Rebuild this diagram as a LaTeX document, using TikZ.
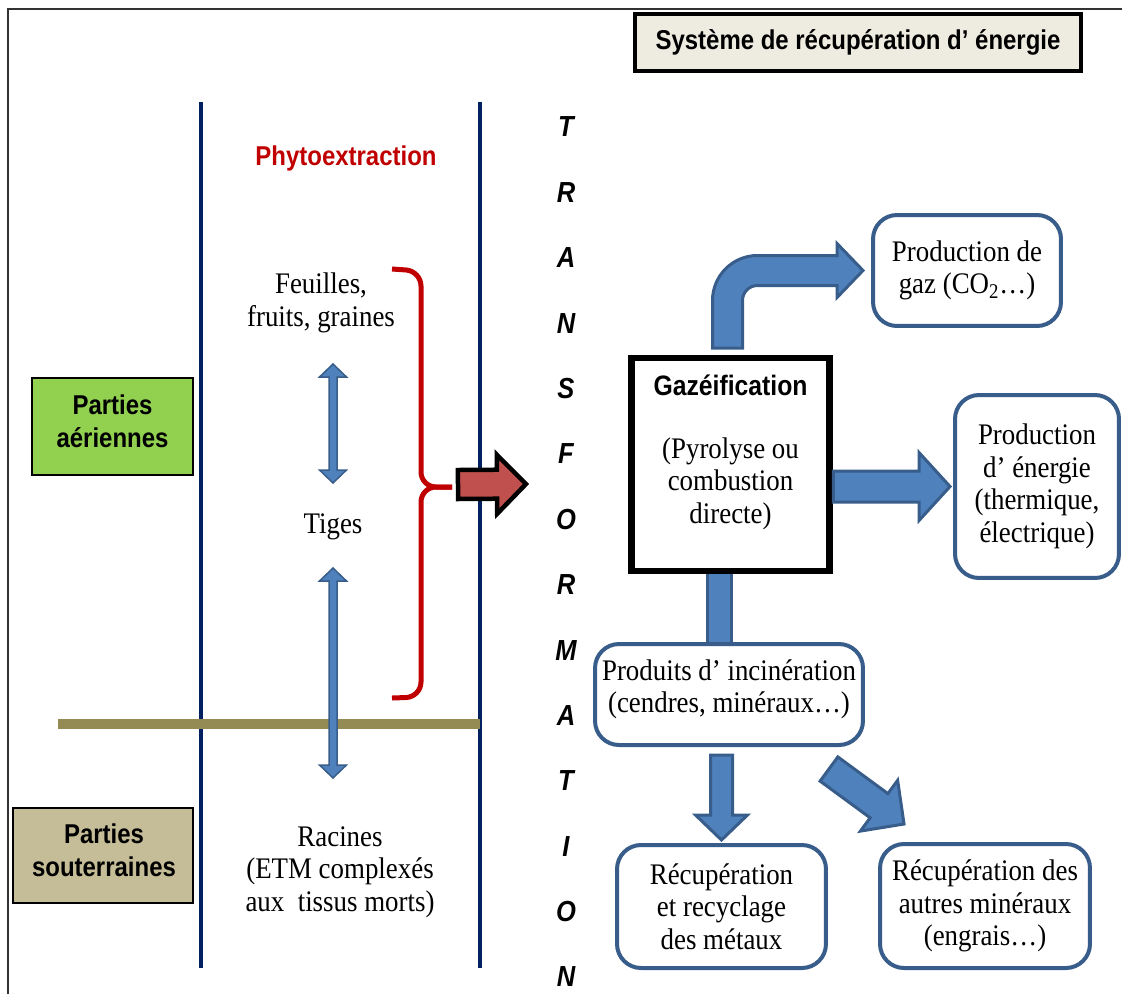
\documentclass[tikz,border=0pt]{standalone}
\usepackage{fontspec}
\setmainfont{Liberation Serif}[FakeStretch=0.9]
\newfontfamily\hsans{Liberation Sans}[FakeStretch=0.88]
\usepackage{tikz}
\usetikzlibrary{calc,positioning,backgrounds}
\definecolor{bleu}{HTML}{4F81BD}
\definecolor{bleufonce}{HTML}{385D8A}
\definecolor{marine}{HTML}{002060}
\definecolor{rouge}{HTML}{C00000}
\definecolor{brique}{HTML}{C0504D}
\definecolor{olive}{HTML}{948A54}
\definecolor{vert}{HTML}{92D050}
\definecolor{sable}{HTML}{C4BD97}
\definecolor{creme}{HTML}{EEECE1}
\newcommand{\bkarrow}[6]{%
	\path ($(#3)!#6!(#2)$) coordinate (bkH);
	\draw[#1] ($(#2)!#4!90:(#3)$) -- ($(bkH)!#4!90:(#3)$) -- ($(bkH)!#5!90:(#3)$) -- (#3)
		-- ($(bkH)!#5!-90:(#3)$) -- ($(bkH)!#4!-90:(#3)$) -- ($(#2)!#4!-90:(#3)$) -- cycle;}
\newcommand{\bkdarrow}[6]{%
	\path ($(#3)!#6!(#2)$) coordinate (bkH) ($(#2)!#6!(#3)$) coordinate (bkK);
	\draw[#1] (#2) -- ($(bkK)!#5!90:(#3)$) -- ($(bkK)!#4!90:(#3)$) -- ($(bkH)!#4!90:(#3)$)
		-- ($(bkH)!#5!90:(#3)$) -- (#3) -- ($(bkH)!#5!-90:(#3)$) -- ($(bkH)!#4!-90:(#3)$)
		-- ($(bkK)!#4!-90:(#3)$) -- ($(bkK)!#5!-90:(#3)$) -- cycle;}
\tikzset{
	diagram/.style={x=0.02cm, y=-0.02cm, line join=miter},
	txt/.style={align=center, inner sep=0pt, font=\fontsize{17}{18.5}\selectfont},
	head/.style={align=center, inner sep=0pt, font=\hsans\bfseries\fontsize{15.5}{18.5}\selectfont},
	lettre/.style={inner sep=0pt, font=\hsans\bfseries\itshape\fontsize{16.5}{16}\selectfont},
	titre box/.style={head, draw, line width=0.08cm, fill=creme, minimum width=8.92cm, minimum height=1.14cm},
	partie/.style={draw, line width=0.04cm, minimum width=3.22cm, minimum height=1.94cm},
	rbox/.style={txt, draw=bleufonce, line width=0.08cm, fill=white, rounded corners=0.48cm, outer sep=0pt},
	gbox/.style={draw, line width=0.13cm, fill=white, minimum width=3.96cm, minimum height=4.26cm, outer sep=0pt},
	limite/.style={draw=marine, line width=0.08cm},
	sol/.style={draw=olive, line width=0.2cm},
	accolade/.style={draw=rouge, line width=0.1cm, rounded corners=0.3cm},
	bluear/.style={fill=bleu, draw=bleufonce, line width=0.06cm},
	dbl/.style={fill=bleu, draw=bleufonce, line width=0.03cm},
	redar/.style={fill=brique, draw=black, line width=0.09cm},
	cadre/.style={draw=black!80, line width=0.03cm}
}

\begin{document}
\begin{tikzpicture}[diagram]
	\useasboundingbox (0,0) rectangle (1122,994);
	\draw[cadre] (8,994) -- (8,9) -- (1122,9);
	\node[titre box] (S) at (858,42.5) {Système de récupération d’ énergie};

	\draw[limite] (201,102) -- (201,968);
	\draw[limite] (480,102) -- (480,968);
	\draw[sol] (58,724) -- (480,724);

	\node[head, text=rouge] (Ph) at (346,158) {Phytoextraction};
	\node[txt] (Fe) at (321,303) {Feuilles,\\fruits, graines};
	\node[txt] (Tg) at (333,527) {Tiges};
	\node[txt] (Ra) at (340,872) {Racines\\(ETM complexés\\aux~ tissus morts)};
	\node[partie, fill=vert] (PA) at (112.5,426.5) {};
	\node[head] at ($(PA)+(0,-5)$) {Parties\\aériennes};
	\node[partie, fill=sable, minimum width=3.6cm, minimum height=1.9cm] (PS) at (103,855.5) {};
	\node[head] at ($(PS)+(1,-5)$) {Parties\\souterraines};

	\coordinate (D1) at ($(Tg)+(0,-163)$);
	\coordinate (D2) at ($(Tg)+(0,-44)$);
	\coordinate (D3) at ($(Tg)+(0,41)$);
	\coordinate (D4) at ($(Tg)+(0,251)$);
	\bkdarrow{dbl}{D1}{D2}{0.08cm}{0.27cm}{0.26cm}
	\bkdarrow{dbl}{D3}{D4}{0.08cm}{0.27cm}{0.26cm}

	\coordinate (Br) at (452,487);
	\draw[accolade] (392,269) -- (421,271) -- (421,487) -- (Br);
	\draw[accolade] (Br) -- (421,487) -- (421,697) -- (392,698);
	\coordinate (Rq) at ($(Br)+(6,-2.5)$);
	\coordinate (Rt) at (526,484);
	\bkarrow{redar}{Rq}{Rt}{0.29cm}{0.59cm}{0.58cm}

	\foreach \l [count=\i] in {T,R,A,N,S,F,O,R,M,A,T,I,O,N}
		\node[lettre] (L\i) at (566,{127+65.38*(\i-1)}) {\l};

	\node[gbox] (Gz) at (730.5,464.5) {};
	\node[head, font=\hsans\bfseries\fontsize{16}{19}\selectfont] (GzT) at ($(Gz.north)+(0,27)$) {Gazéification};
	\node[txt] (GzB) at ($(Gz)+(0,19)$) {(Pyrolyse ou\\combustion\\directe)};
	\node[rbox, minimum width=3.76cm, minimum height=2.22cm] (P1) at (967,270.5) {Production de\\gaz (CO\textsubscript{2}…)};
	\node[rbox, minimum width=3.28cm, minimum height=3.66cm] (PE) at (1037,486.5) {Production\\d’ énergie\\(thermique,\\électrique)};
	\node[rbox, minimum width=5.36cm, minimum height=2.02cm] (In) at (729,694.5) {};
	\node[txt] at ($(In)+(0,-5)$) {Produits d’ incinération\\(cendres, minéraux…)};
	\node[rbox, minimum width=4.18cm, minimum height=2.46cm] (R1) at (721.5,906.5) {Récupération\\et recyclage\\des métaux};
	\node[rbox, minimum width=4.2cm, minimum height=2.48cm] (R2) at (985,906) {Récupération des\\autres minéraux\\(engrais…)};

	\begin{scope}[on background layer]
		\draw[bluear] ($(Gz.south)+(-23,0)$) rectangle ($(Gz.south |- In.north)+(1,0)$);
	\end{scope}
	\draw[bluear] ($(Gz.north)+(-18,-10)$) -- ($(Gz.north |- P1.west)+(-18,30)$)
		arc[start angle=180, end angle=270, radius=45] -- ($(P1.west)+(-36,-15)$) -- ($(P1.west)+(-36,-27)$)
		-- ($(P1.west)+(-10,0)$) -- ($(P1.west)+(-36,27)$) -- ($(P1.west)+(-36,15)$)
		-- ($(Gz.north |- P1.west)+(27,15)$) arc[start angle=270, end angle=180, radius=15]
		-- ($(Gz.north)+(12,-10)$) -- cycle;
	\coordinate (Ea) at ($(Gz.east |- PE.west)+(4,0)$);
	\coordinate (Eb) at ($(PE.west)+(-5,0)$);
	\bkarrow{bluear}{Ea}{Eb}{0.31cm}{0.68cm}{0.62cm}
	\coordinate (Ma) at ($(In.south -| R1.north)+(0,10)$);
	\coordinate (Mb) at ($(R1.north)+(0,-5)$);
	\bkarrow{bluear}{Ma}{Mb}{0.22cm}{0.52cm}{0.5cm}
	\coordinate (Na) at ($(In.south east)+(-34,24)$);
	\coordinate (Nb) at ($(R2.north west)+(24,-20)$);
	\bkarrow{bluear}{Na}{Nb}{0.3cm}{0.63cm}{0.62cm}
\end{tikzpicture}
\end{document}
